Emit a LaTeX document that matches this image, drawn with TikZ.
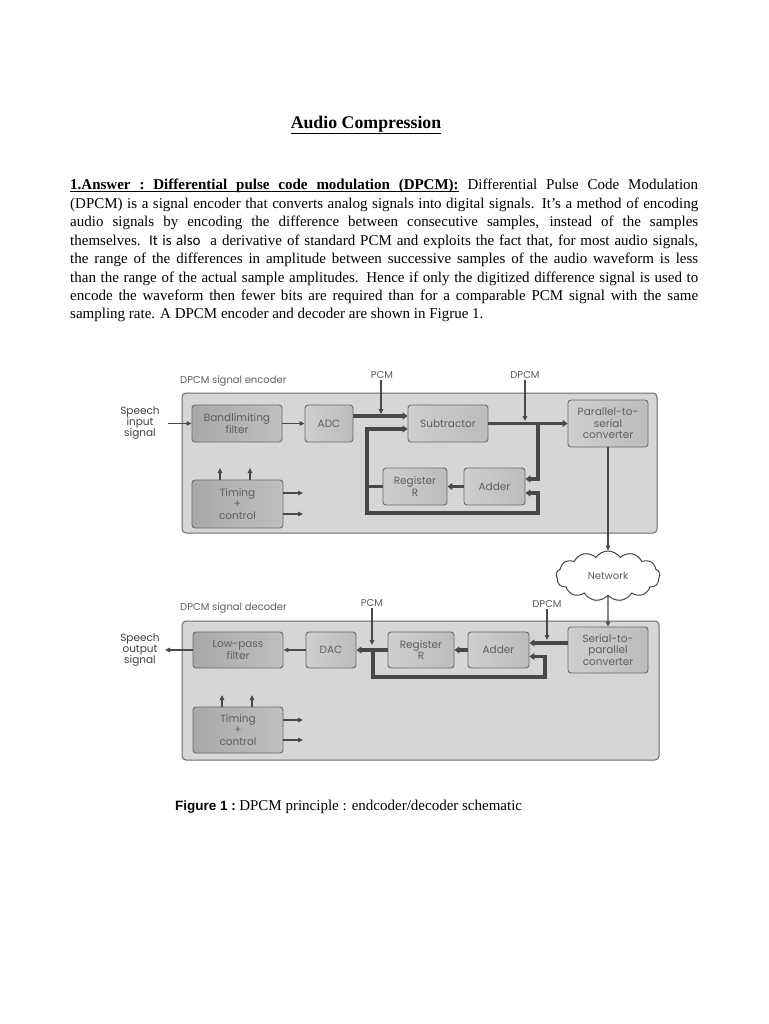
\documentclass[tikz,border=0pt]{standalone}
\usepackage{fontspec}
\setmainfont{Liberation Serif}
\newfontfamily\diafont{Poppins}
\newfontfamily\capfont{Liberation Sans}
\newfontfamily\calfont{Carlito}
\usetikzlibrary{arrows.meta,shapes.symbols,calc}
\newsavebox\myulbox
\newcommand\ulw[1]{\sbox\myulbox{#1}\rlap{\vrule width\wd\myulbox height -1.6pt depth 2.5pt}\usebox\myulbox}
\newcommand\ulsp{\leaders\vrule height -1.6pt depth 2.5pt\hskip\fontdimen2\font plus\fontdimen3\font minus\fontdimen4\font\relax}
\definecolor{outerfill}{RGB}{214,214,214}
\definecolor{lblA}{RGB}{206,206,206}
\definecolor{lblB}{RGB}{188,188,188}
\definecolor{dblA}{RGB}{168,168,168}
\definecolor{dblB}{RGB}{192,192,192}
\definecolor{edge}{RGB}{105,105,105}
\definecolor{wire}{RGB}{72,72,72}
\definecolor{dtext}{RGB}{95,95,95}
\begin{document}
\begin{tikzpicture}[x=1pt,y=-1pt,
  panel/.style={draw=edge, line width=1pt, fill=outerfill, rounded corners=4pt, inner sep=0pt},
  blk/.style={draw=edge, line width=0.9pt, rounded corners=3pt, inner sep=0pt, align=center,
     text=dtext, font=\diafont\fontsize{10.5}{11.5}\selectfont},
  lblock/.style={blk, left color=lblA, right color=lblB},
  dblock/.style={blk, left color=dblA, right color=dblB},
  lbl/.style={text=dtext, font=\diafont\fontsize{10}{11}\selectfont, inner sep=1pt},
  sidelbl/.style={text=black!75, align=center, font=\diafont\fontsize{10.5}{11}\selectfont, inner sep=0pt},
  thinwire/.style={draw=wire, line width=1.4pt},
  thickwire/.style={draw=wire, line width=3.2pt},
  tip/.tip={Triangle[length=5pt,width=4.5pt]},
  ttip/.tip={Triangle[length=5pt,width=7pt]}
]
\fill[white] (0,0) rectangle (768,1024);
\useasboundingbox (0,0) rectangle (768,1024);

% ---------- text ----------
\node[font=\bfseries\fontsize{17.8}{20}\selectfont, inner sep=0pt] (title) at (366,125) {\underline{Audio Compression}};

\node[anchor=north west, text width=628pt, align=justify, inner sep=0pt,
      font=\fontsize{15}{18.45}\selectfont] (body) at (70,179)
{\tolerance=9999\hyphenpenalty=10000
\textbf{\ulw{1.Answer}\ulsp\ulw{:}\ulsp\ulw{Differential}\ulsp\ulw{pulse}\ulsp\ulw{code}\ulsp\ulw{modulation}\ulsp\ulw{(DPCM):}} Differential Pulse Code Modulation\linebreak
(DPCM) is a signal encoder that converts analog signals into digital signals. It's a method of encoding\linebreak
audio signals by encoding the difference between consecutive samples, instead of the samples\linebreak
themselves. {\calfont It is also}\ \ a derivative of standard PCM and exploits the fact that, for most audio signals,\linebreak
the range of the differences in amplitude between successive samples of the audio waveform is less\linebreak
than the range of the actual sample amplitudes. Hence if only the digitized difference signal is used to\linebreak
encode the waveform then fewer bits are required than for a comparable PCM signal with the same\linebreak
sampling rate. A DPCM encoder and decoder are shown in Figrue 1.};

\node[anchor=west, inner sep=0pt] (caption) at (175,807)
{{\capfont\bfseries\fontsize{13.5}{15}\selectfont Figure 1 :} {\fontsize{15}{17}\selectfont DPCM principle : endcoder/decoder schematic}};

% ---------- encoder ----------
\node[panel, minimum width=475pt, minimum height=140pt] (enc) at (419.5,463) {};
\node[lbl, anchor=west] (enclbl) at (179,381) {DPCM signal encoder};
\node[lbl] (pcm1) at (382,375) {PCM};
\node[lbl] (dpcm1) at (525,375) {DPCM};

\node[dblock, minimum width=90pt, minimum height=37pt] (bf) at (237,423.5) {Bandlimiting\\filter};
\node[lblock, minimum width=48pt, minimum height=37pt] (adc) at (329,423.5) {ADC};
\node[lblock, minimum width=80pt, minimum height=37pt] (sub) at (448,423.5) {Subtractor};
\node[lblock, minimum width=80pt, minimum height=47pt] (pts) at (608,423.5) {Parallel-to-\\serial\\converter};
\node[dblock, minimum width=91pt, minimum height=48pt] (tc1) at (237.5,504) {Timing\\+\\control};
\node[lblock, minimum width=64pt, minimum height=37pt] (reg1) at (415,486.5) {Register\\R};
\node[lblock, minimum width=61pt, minimum height=37pt] (add1) at (494.5,486.5) {Adder};

\node[sidelbl] (sinlbl) at (140,423) {Speech\\input\\signal};
\coordinate (sin) at (168,423.5);
\draw[thinwire,-tip] (sin) -- (bf.west);
\draw[thinwire,-tip] (bf.east) -- (adc.west);
\draw[thickwire,-ttip] ($(adc.east)+(0,-7.5)$) -- ($(sub.west)+(0,-7.5)$);
\coordinate (pcm1e) at (381,414);
\draw[thinwire,-tip] (pcm1.south -| pcm1e) -- (pcm1e);
\draw[thickwire,-ttip] (sub.east) -- (pts.west);
\coordinate (dpcm1e) at (525,421);
\draw[thinwire,-tip] (dpcm1.south -| dpcm1e) -- (dpcm1e);
\coordinate (br1) at (538,423.5);
\draw[thickwire,-ttip] (br1) |- ($(add1.east)+(0,-7.5)$);
\draw[thickwire,-ttip] (add1.west) -- (reg1.east);
\coordinate (j1) at (367,486.5);
\coordinate (c1) at (538,513);
\draw[thickwire] (reg1.west) -- (j1);
\draw[thickwire,-ttip] (j1) |- ($(sub.west)+(0,5.5)$);
\draw[thickwire,-ttip] (j1) |- (c1) |- ($(add1.east)+(0,6.5)$);

\coordinate (t1a) at (220,468);
\coordinate (t1b) at (250,468);
\coordinate (t1c) at (303,493);
\coordinate (t1d) at (303,514);
\draw[thinwire,-tip] (tc1.north -| t1a) -- (t1a);
\draw[thinwire,-tip] (tc1.north -| t1b) -- (t1b);
\draw[thinwire,-tip] (tc1.east |- t1c) -- (t1c);
\draw[thinwire,-tip] (tc1.east |- t1d) -- (t1d);

% ---------- network ----------
\node[cloud, cloud puffs=13, cloud puff arc=110, aspect=2.2, draw=wire, line width=1pt, fill=white,
      minimum width=104pt, minimum height=50pt, inner sep=0pt, text=dtext,
      font=\diafont\fontsize{10}{11}\selectfont] (net) at (608,576) {Network};
\draw[thinwire,-tip] (pts.south) -- (net.north);

% ---------- decoder ----------
\node[panel, minimum width=477pt, minimum height=139pt] (dec) at (420.5,690.5) {};
\node[lbl, anchor=west] (declbl) at (179,608) {DPCM signal decoder};
\node[lbl] (pcm2) at (372,603) {PCM};
\node[lbl] (dpcm2) at (547,604) {DPCM};

\node[dblock, minimum width=90pt, minimum height=36pt] (lpf) at (238,650) {Low-pass\\filter};
\node[lblock, minimum width=50pt, minimum height=36pt] (dac) at (331,650) {DAC};
\node[lblock, minimum width=66pt, minimum height=36pt] (reg2) at (421,650) {Register\\R};
\node[lblock, minimum width=61pt, minimum height=36pt] (add2) at (498.5,650) {Adder};
\node[lblock, minimum width=80pt, minimum height=46pt] (stp) at (608,650) {Serial-to-\\parallel\\converter};
\node[dblock, minimum width=90pt, minimum height=46pt] (tc2) at (238,730) {Timing\\+\\control};

\draw[thinwire,-tip] (net.south) -- (stp.north);

\node[sidelbl] (soutlbl) at (140,650) {Speech\\output\\signal};
\coordinate (sout) at (165,650);
\draw[thinwire,-tip] (lpf.west) -- (sout);
\draw[thinwire,-tip] (dac.west) -- (lpf.east);
\draw[thickwire,-ttip] (reg2.west) -- (dac.east);
\draw[thickwire,-ttip] (add2.west) -- (reg2.east);
\draw[thickwire,-ttip] ($(stp.west)+(0,-7)$) -- ($(add2.east)+(0,-7)$);
\coordinate (pcm2e) at (372,645);
\draw[thinwire,-tip] (pcm2.south -| pcm2e) -- (pcm2e);
\coordinate (dpcm2e) at (547,640);
\draw[thinwire,-tip] (dpcm2.south -| dpcm2e) -- (dpcm2e);
\coordinate (j2) at (373,650);
\coordinate (c2) at (545,677);
\draw[thickwire,-ttip] (j2) |- (c2) |- ($(add2.east)+(0,6.5)$);

\coordinate (t2a) at (222,695);
\coordinate (t2b) at (252,695);
\coordinate (t2c) at (303,720);
\coordinate (t2d) at (303,740);
\draw[thinwire,-tip] (tc2.north -| t2a) -- (t2a);
\draw[thinwire,-tip] (tc2.north -| t2b) -- (t2b);
\draw[thinwire,-tip] (tc2.east |- t2c) -- (t2c);
\draw[thinwire,-tip] (tc2.east |- t2d) -- (t2d);
\end{tikzpicture}
\end{document}
